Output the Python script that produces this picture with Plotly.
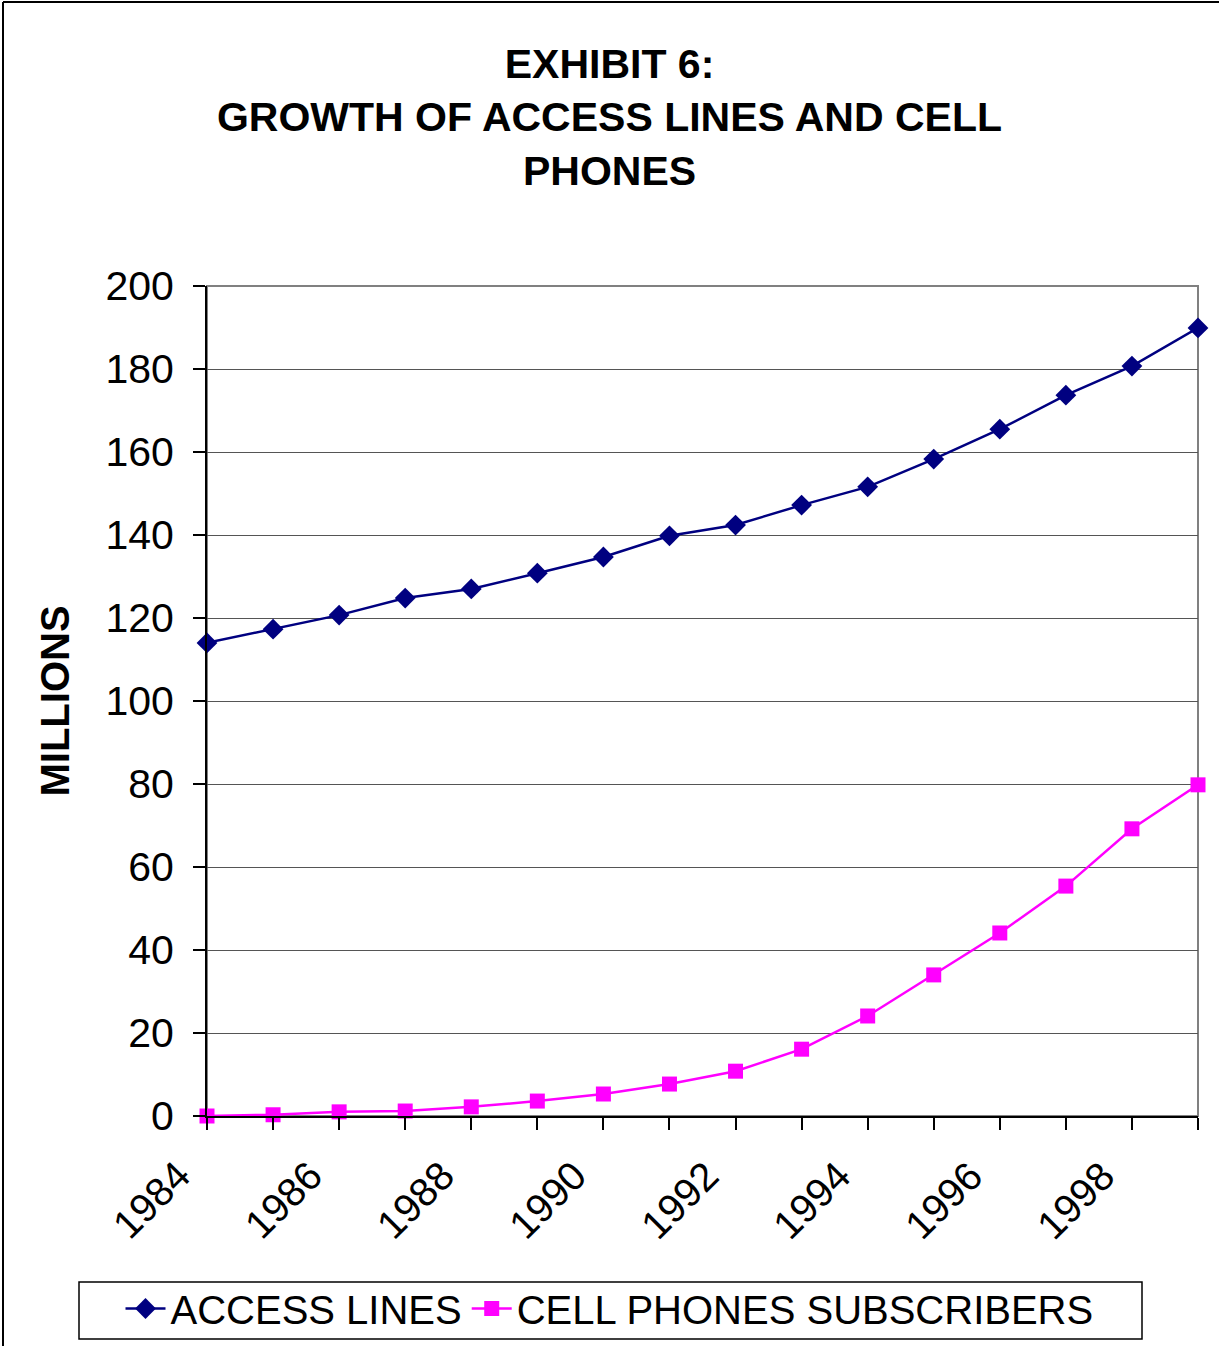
import plotly.graph_objects as go

years = list(range(1984, 2000))
access_lines = [114.0, 117.3, 120.7, 124.8, 127.0, 130.8, 134.7, 139.8, 142.4, 147.2,
                151.6, 158.3, 165.5, 173.7, 180.7, 189.9]
cell_phones = [0.0, 0.3, 1.0, 1.2, 2.2, 3.6, 5.3, 7.7, 10.8, 16.1,
               24.1, 34.0, 44.1, 55.4, 69.2, 79.8]
x_tick_labels = ["1984", "1986", "1988", "1990", "1992", "1994", "1996", "1998"]
y_ticks = list(range(0, 201, 20))

FONT = "Arial, Liberation Sans, sans-serif"
W, H = 1219, 1346
L, R, T, B = 207, 21, 286, 230
pw, ph = W - L - R, H - T - B


def px_x(p):
    return (p - L) / pw


def px_y(p):
    return (H - B - p) / ph


fig = go.Figure()
fig.add_trace(go.Scatter(
    x=years, y=access_lines, name="ACCESS LINES", mode="lines+markers",
    line=dict(color="#000080", width=2.5),
    marker=dict(symbol="diamond", size=16, color="#000080"),
    cliponaxis=False))
fig.add_trace(go.Scatter(
    x=years, y=cell_phones, name="CELL PHONES SUBSCRIBERS", mode="lines+markers",
    line=dict(color="#FF00FF", width=2.5),
    marker=dict(symbol="square", size=15, color="#FF00FF"),
    cliponaxis=False))

annotations = []
for lab in x_tick_labels:
    annotations.append(dict(
        x=int(lab), y=0, xref="x", yref="y", text=lab, showarrow=False,
        textangle=-45, xanchor="center", yanchor="middle",
        xshift=-56, yshift=-84, font=dict(family=FONT, size=40, color="black")))

shapes = [
    # plot area border (gray top/right)
    dict(type="rect", xref="paper", yref="paper", x0=0, x1=1, y0=0, y1=1,
         line=dict(color="#808080", width=2), layer="below"),
    # outer chart border (top and left visible)
    dict(type="line", xref="paper", yref="paper",
         x0=px_x(3), x1=px_x(W + 10), y0=px_y(2), y1=px_y(2),
         line=dict(color="black", width=2)),
    dict(type="line", xref="paper", yref="paper",
         x0=px_x(3), x1=px_x(3), y0=px_y(2), y1=px_y(H + 10),
         line=dict(color="black", width=2)),
    # legend box
    dict(type="rect", xref="paper", yref="paper",
         x0=px_x(79), x1=px_x(1142), y0=px_y(1339), y1=px_y(1282),
         line=dict(color="black", width=1.5), fillcolor="rgba(0,0,0,0)"),
]

fig.update_layout(
    width=W, height=H,
    margin=dict(l=L, r=R, t=T, b=B),
    paper_bgcolor="white", plot_bgcolor="white",
    font=dict(family=FONT, color="black"),
    title=dict(
        text="<b>EXHIBIT 6:<br>GROWTH OF ACCESS LINES AND CELL<br>PHONES</b>",
        x=0.5, xanchor="center", xref="container",
        y=1 - 78 / H, yanchor="top", yref="container",
        font=dict(family=FONT, size=41, color="black")),
    xaxis=dict(
        range=[1984, 1999], tickmode="array", tickvals=years,
        ticktext=[""] * len(years),
        ticks="outside", ticklen=12, tickcolor="black", tickwidth=1.5,
        showline=True, linecolor="black", linewidth=2, showgrid=False,
        zeroline=False),
    yaxis=dict(
        range=[0, 200], tickmode="array", tickvals=y_ticks,
        ticks="outside", ticklen=12, tickcolor="black", tickwidth=1.5,
        showline=True, linecolor="black", linewidth=2,
        showgrid=True, gridcolor="#555555", gridwidth=1, zeroline=False,
        tickfont=dict(family=FONT, size=41, color="black"),
        ticklabelstandoff=11,
        title=dict(text="<b>MILLIONS</b>", standoff=23,
                   font=dict(family=FONT, size=40, color="black"))),
    legend=dict(
        orientation="h", xref="container", x=0.5, xanchor="center",
        yref="container", y=1 - 1276 / H, yanchor="top",
        borderwidth=0, bgcolor="rgba(0,0,0,0)",
        font=dict(family=FONT, size=40, color="black"),
        itemwidth=40, tracegroupgap=0),
    annotations=annotations,
    shapes=shapes,
)

fig.write_html("out.html")
